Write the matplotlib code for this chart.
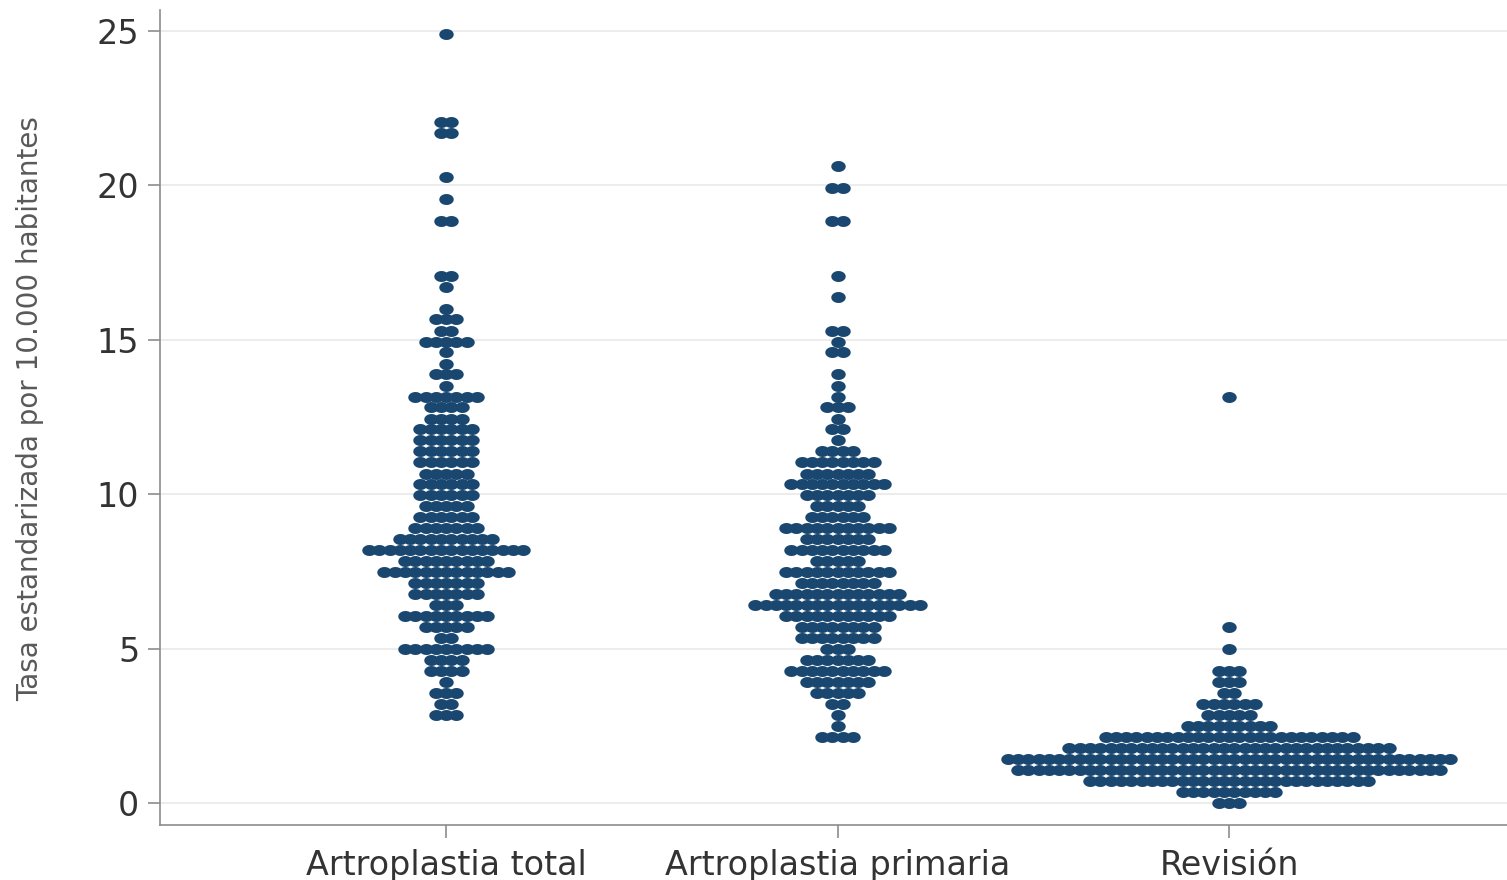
import numpy as np
import matplotlib
matplotlib.use('Agg')
import matplotlib.pyplot as plt
from matplotlib.path import Path

# ---------------- data (row value -> number of dots) ----------------
categories = ['Artroplastia total', 'Artroplastia primaria', 'Revisión']

total_vals = [2.85, 3.20, 3.56, 3.91, 4.27, 4.63, 4.98, 5.34, 5.69, 6.05, 6.40, 6.76,
              7.12, 7.47, 7.83, 8.18, 8.54, 8.90, 9.25, 9.61, 9.96, 10.32, 10.67, 11.03,
              11.39, 11.74, 12.10, 12.45, 12.81, 13.16, 13.52, 13.88, 14.23, 14.59, 14.94,
              15.30, 15.66, 16.01, 16.72, 17.08, 18.86, 19.57, 20.28, 21.70, 22.06, 24.91]
total_counts = [3, 2, 3, 1, 4, 4, 9, 2, 5, 9, 3, 7,
                7, 13, 9, 16, 10, 7, 6, 5, 6, 6, 5, 6,
                6, 6, 6, 4, 4, 7, 1, 3, 1, 1, 5,
                2, 3, 1, 1, 2, 2, 1, 1, 2, 2, 1]

primaria_vals = [2.13, 2.49, 2.85, 3.20, 3.56, 3.91, 4.27, 4.63, 4.98, 5.34, 5.69, 6.05,
                 6.40, 6.76, 7.12, 7.47, 7.83, 8.18, 8.54, 8.90, 9.25, 9.61, 9.96, 10.32,
                 10.67, 11.03, 11.39, 11.74, 12.10, 12.45, 12.81, 13.16, 13.52, 13.88,
                 14.59, 14.94, 15.30, 16.37, 17.08, 18.86, 19.92, 20.64]
primaria_counts = [4, 1, 1, 2, 5, 7, 10, 7, 3, 8, 8, 11,
                   17, 13, 8, 11, 5, 10, 7, 11, 6, 5, 7, 10,
                   7, 8, 4, 1, 2, 1, 3, 1, 1, 1,
                   2, 1, 2, 1, 1, 2, 2, 1]

revision_vals = [0.00, 0.36, 0.71, 1.07, 1.42, 1.78, 2.13, 2.49, 2.85, 3.20, 3.56, 3.91,
                 4.27, 4.98, 5.69, 13.16]
revision_counts = [3, 10, 28, 42, 44, 32, 25, 9, 5, 6, 2, 3,
                   3, 1, 1, 1]

groups = [(total_vals, total_counts), (primaria_vals, primaria_counts),
          (revision_vals, revision_counts)]

# ---------------- style ----------------
W, H = 1507, 880
DOT_COLOR = '#1a476f'
STEP = 0.0263          # horizontal spacing between dots (x data units)
t = np.linspace(0, 2 * np.pi, 64)
ellipse = Path(np.column_stack([np.cos(t), 0.76 * np.sin(t)]), closed=True)

fig = plt.figure(figsize=(W / 100, H / 100), dpi=100)
ax = fig.add_axes([160 / W, 55 / H, 1 - 160 / W, 815 / H])

for gi, (vals, counts) in enumerate(groups):
    xs, ys = [], []
    for v, n in zip(vals, counts):
        offs = (np.arange(n) - (n - 1) / 2.0) * STEP
        xs.extend(gi + 1 + offs)
        ys.extend([v] * n)
    ax.scatter(xs, ys, s=108, marker=ellipse, color=DOT_COLOR, linewidths=0, zorder=3)

ax.set_xlim(0.269, 3.71)
ax.set_ylim(-0.712, 25.68)
ax.set_xticks([1, 2, 3])
ax.set_xticklabels(categories)
ax.set_yticks([0, 5, 10, 15, 20, 25])
ax.yaxis.grid(True, color='#eaeaea', linewidth=1.3)
ax.set_axisbelow(True)

for sp in ['top', 'right']:
    ax.spines[sp].set_visible(False)
for sp in ['left', 'bottom']:
    ax.spines[sp].set_color('#8c8c8c')
    ax.spines[sp].set_linewidth(1.2)

ax.tick_params(axis='both', direction='out', length=9, width=1.2, color='#8c8c8c',
               labelsize=24, labelcolor='#333333')
ax.tick_params(axis='y', pad=6)
ax.tick_params(axis='x', pad=8)

fig.text(30 / W, 1 - 409 / H, 'Tasa estandarizada por 10.000 habitantes', rotation=90,
         ha='center', va='center', fontsize=20, color='#595959')

fig.savefig('out.png', dpi=100)
